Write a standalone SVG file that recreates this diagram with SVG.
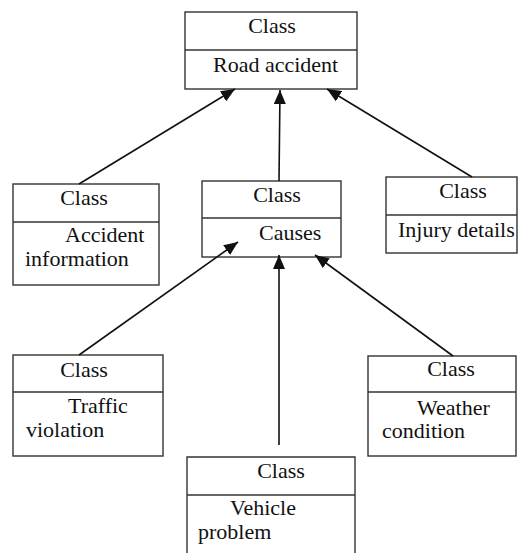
<svg xmlns="http://www.w3.org/2000/svg" width="518" height="553" viewBox="0 0 518 553">
<defs>
<style>
.box{fill:#fff;stroke:#333;stroke-width:1.4}
text{font-family:'Liberation Serif','Times New Roman','DejaVu Serif',serif;font-size:22px;fill:#111}
.c{text-anchor:middle}
.e{stroke:#111;stroke-width:1.6;fill:none;marker-end:url(#ah)}
</style>
<marker id="ah" viewBox="0 0 14 12" refX="14" refY="6" markerWidth="14" markerHeight="12" markerUnits="userSpaceOnUse" orient="auto">
<path d="M0,0 L14,6 L0,12 Z" fill="#111"/>
</marker>
</defs>
<rect width="518" height="553" fill="#fff"/>
<g id="road-accident">
<rect class="box" x="185" y="12" width="172" height="77"/>
<line class="box" x1="185" y1="50" x2="357" y2="50"/>
<text class="c" x="272" y="33">Class</text>
<text x="213" y="72">Road accident</text>
</g>
<g id="accident-information">
<rect class="box" x="13" y="184" width="146" height="101"/>
<line class="box" x1="13" y1="222" x2="159" y2="222"/>
<text class="c" x="84" y="205">Class</text>
<text x="65" y="242">Accident</text>
<text x="25" y="266">information</text>
</g>
<g id="causes">
<rect class="box" x="202" y="181" width="139" height="76"/>
<line class="box" x1="202" y1="218" x2="341" y2="218"/>
<text class="c" x="277" y="202">Class</text>
<text x="259" y="240">Causes</text>
</g>
<g id="injury-details">
<rect class="box" x="386" y="177" width="131" height="76"/>
<line class="box" x1="386" y1="215" x2="517" y2="215"/>
<text class="c" x="463" y="198">Class</text>
<text x="398" y="237">Injury details</text>
</g>
<g id="traffic-violation">
<rect class="box" x="13" y="355" width="150" height="101"/>
<line class="box" x1="13" y1="392" x2="163" y2="392"/>
<text class="c" x="84" y="377">Class</text>
<text x="68" y="413">Traffic</text>
<text x="26" y="437">violation</text>
</g>
<g id="weather-condition">
<rect class="box" x="368" y="356" width="148" height="100"/>
<line class="box" x1="368" y1="392" x2="516" y2="392"/>
<text class="c" x="451" y="376">Class</text>
<text x="417" y="415">Weather</text>
<text x="382" y="438">condition</text>
</g>
<g id="vehicle-problem">
<path class="box" d="M187,560 V457 H355 V560"/>
<line class="box" x1="187" y1="495" x2="355" y2="495"/>
<text class="c" x="281" y="478">Class</text>
<text x="230" y="515">Vehicle</text>
<text x="198" y="539">problem</text>
</g>
<g id="edges">
<line class="e" x1="79" y1="184" x2="235" y2="89"/>
<line class="e" x1="279" y1="181" x2="280" y2="90"/>
<line class="e" x1="472" y1="177" x2="327" y2="89"/>
<line class="e" x1="79" y1="355" x2="238" y2="242"/>
<line class="e" x1="279" y1="445" x2="279" y2="255"/>
<line class="e" x1="453" y1="356" x2="315" y2="255"/>
</g>
</svg>
